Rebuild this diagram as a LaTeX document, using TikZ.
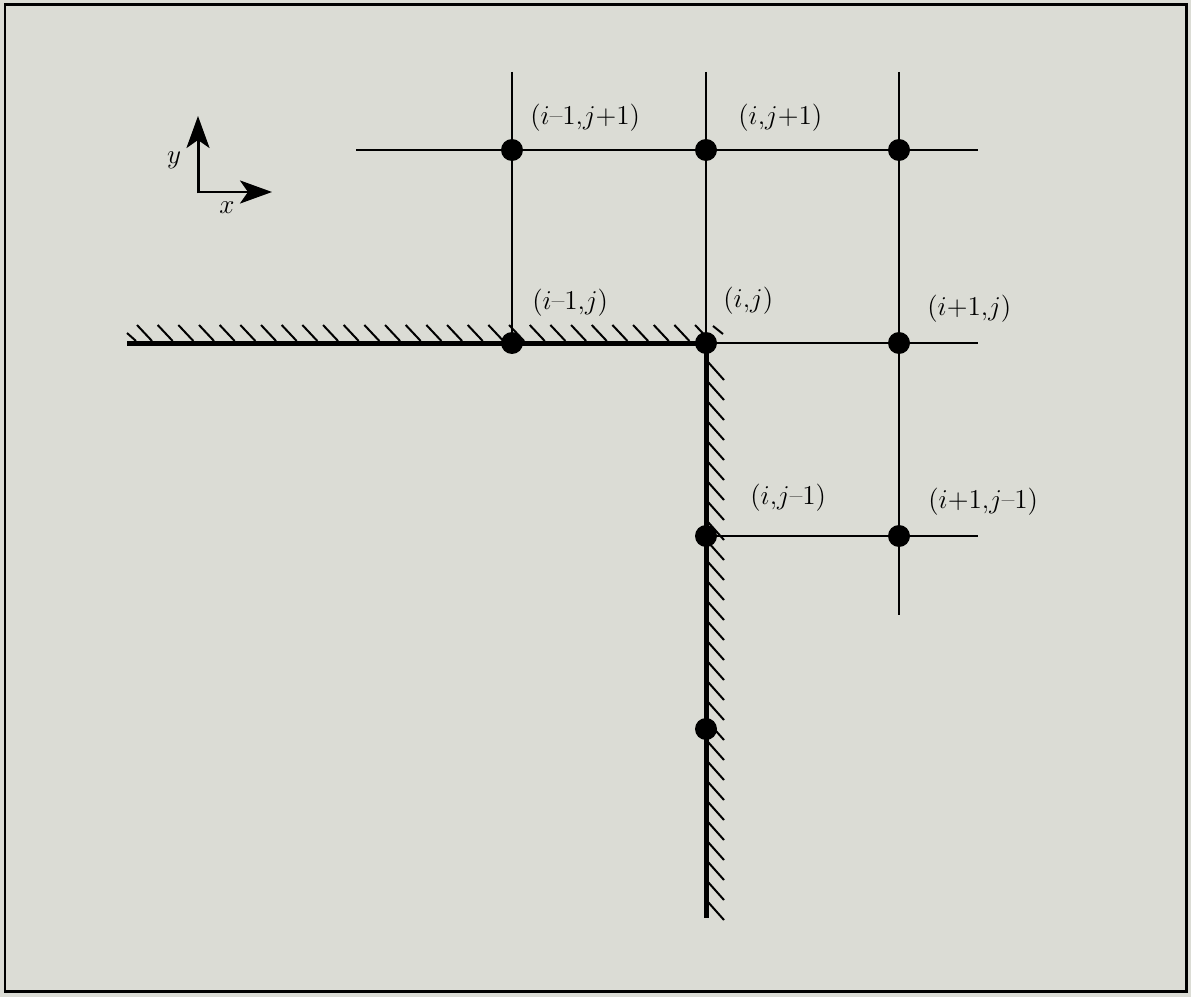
\documentclass[tikz,border=0pt]{standalone}
\usepackage{fix-cm}
\usetikzlibrary{arrows.meta, positioning}
\definecolor{paper}{RGB}{219,220,213}
\newcommand{\gmin}{\mbox{--}}

\begin{document}
\begin{tikzpicture}[x=0.02cm, y=-0.02cm,
    gridline/.style={line width=0.04cm},
    wall/.style={line width=0.1cm},
    hatch/.style={line width=0.04cm},
    gridpt/.style={circle, fill=black, inner sep=0pt, minimum size=0.44cm},
    lbl/.style={anchor=west, inner sep=0pt, font=\fontsize{15.5}{18}\selectfont},
    axis/.style={line width=0.06cm,
      -{Stealth[length=0.64cm, width=0.46cm, inset=0.16cm]}}]
  \useasboundingbox (0,0) rectangle (1191,997);
  \fill[paper] (0,0) rectangle (1191,997);
  \draw[line width=0.06cm] (5,5) rectangle (1186,991);

  % grid points
  \coordinate (p11) at (512,150);
  \coordinate (p21) at (706,150);
  \coordinate (p31) at (899,150);
  \coordinate (p12) at (512,343);
  \coordinate (p22) at (706,343);
  \coordinate (p32) at (899,343);
  \coordinate (p23) at (706,536);
  \coordinate (p33) at (899,536);
  \coordinate (p24) at (706,729);

  % free ends
  \coordinate (top-w) at (356,150);
  \coordinate (top-e) at (978,150);
  \coordinate (c1-n) at (512,72);
  \coordinate (c2-n) at (706,72);
  \coordinate (c3-n) at (899,72);
  \coordinate (c3-s) at (899,615);
  \coordinate (mid-e) at (978,343);
  \coordinate (low-e) at (978,536);
  \coordinate (wall-w) at (127,343);
  \coordinate (wall-s) at (706,918);

  % mesh lines
  \draw[gridline] (top-w) -- (p11) -- (p21) -- (p31) -- (top-e);
  \draw[gridline] (c1-n) -- (p11) -- (p12);
  \draw[gridline] (c2-n) -- (p21) -- (p22);
  \draw[gridline] (c3-n) -- (p31) -- (p32) -- (p33) -- (c3-s);
  \draw[gridline] (p22) -- (p32) -- (mid-e);
  \draw[gridline] (p23) -- (p33) -- (low-e);

  % wall with hatching
  \draw[wall] (wall-w) -- (p12) -- (p22) -- (p23) -- (p24) -- (wall-s);
  \draw[hatch] (127,333) -- (136,341);
  \foreach \k in {0,...,27}
    \draw[hatch] ({137+20.67*\k},325) -- ++(15,16);
  \draw[hatch] (713,326) -- (723,334);
  \foreach \k in {0,...,27}
    \draw[hatch] (708,{362+20*\k}) -- ++(16,18);

  \foreach \n in {11,21,31,12,22,32,23,33,24}
    \node[gridpt] (d\n) at (p\n) {};

  % labels
  \node[lbl] (l11) at (530,118) {$(i\gmin1{,}j{+}1)$};
  \node[lbl] (l21) at (738,118) {$(i{,}j{+}1)$};
  \node[lbl] (l12) at (532,303) {$(i\gmin1{,}j)$};
  \node[lbl] (l22) at (723,301) {$(i{,}j)$};
  \node[lbl] (l32) at (927,309) {$(i{+}1{,}j)$};
  \node[lbl] (l23) at (750,498) {$(i{,}j\gmin1)$};
  \node[lbl] (l33) at (928,502) {$(i{+}1{,}j\gmin1)$};

  % axes
  \coordinate (orig) at (198,192);
  \coordinate (xtip) at (272,192);
  \coordinate (ytip) at (198,116);
  \draw[axis] (orig) -- (xtip);
  \draw[axis] ([yshift=-0.03cm]orig) -- (ytip);
  \node[font=\fontsize{15.5}{18}\selectfont] (ylbl) at (174,160) {$y$};
  \node[font=\fontsize{15.5}{18}\selectfont] (xlbl) at (227,208) {$x$};
\end{tikzpicture}
\end{document}
